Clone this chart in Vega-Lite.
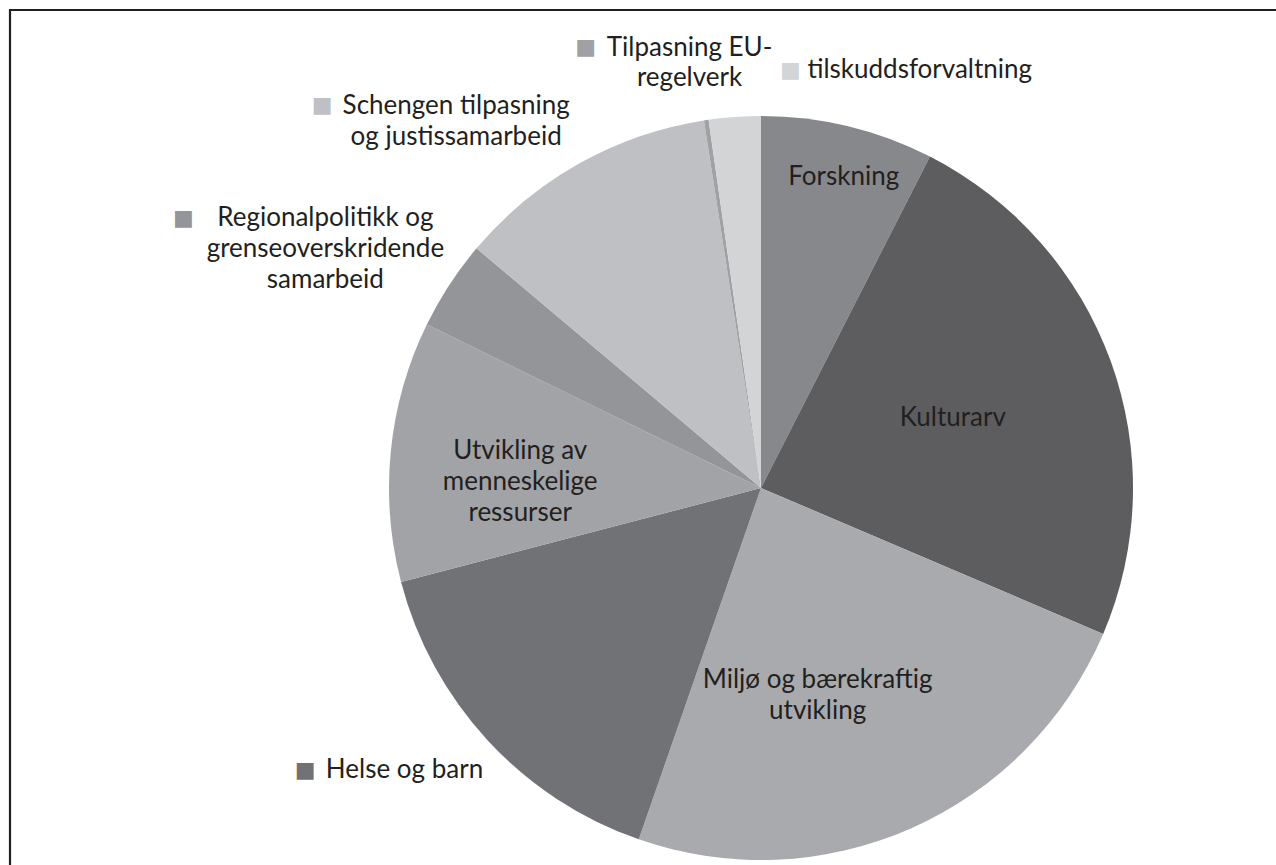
{
  "$schema": "https://vega.github.io/schema/vega-lite/v6.json",
  "width": 1502,
  "height": 956,
  "autosize": "none",
  "padding": {"left": 10, "top": 10, "right": 0, "bottom": 0},
  "background": "white",
  "view": {"stroke": "#231f20", "strokeWidth": 2.2},
  "config": {
    "view": {"stroke": "#231f20", "strokeWidth": 2.2},
    "text": {"font": "Lato", "fontSize": 26, "color": "#231f20", "lineBreak": "\n", "lineHeight": 31, "baseline": "middle"}
  },
  "data": {
    "values": [
      {"i": 1, "name": "Forskning", "share": 7.5, "label": "Forskning"},
      {"i": 2, "name": "Kulturarv", "share": 23.9, "label": "Kulturarv"},
      {"i": 3, "name": "Miljø og bærekraftig utvikling", "share": 23.9, "label": "Miljø og bærekraftig\nutvikling"},
      {"i": 4, "name": "Helse og barn", "share": 15.6, "label": "Helse og barn"},
      {"i": 5, "name": "Utvikling av menneskelige ressurser", "share": 11.3, "label": "Utvikling av\nmenneskelige\nressurser"},
      {"i": 6, "name": "Regionalpolitikk og grenseoverskridende samarbeid", "share": 3.9, "label": "Regionalpolitikk og\ngrenseoverskridende\nsamarbeid"},
      {"i": 7, "name": "Schengen tilpasning og justissamarbeid", "share": 11.4, "label": "Schengen tilpasning\nog justissamarbeid"},
      {"i": 8, "name": "Tilpasning EU-regelverk", "share": 0.2, "label": "Tilpasning EU-\nregelverk"},
      {"i": 9, "name": "tilskuddsforvaltning", "share": 2.25, "label": "tilskuddsforvaltning"}
    ]
  },
  "encoding": {
    "theta": {"field": "share", "type": "quantitative", "stack": true},
    "order": {"field": "i", "type": "quantitative"}
  },
  "layer": [
    {
      "mark": {"type": "arc", "outerRadius": 372},
      "encoding": {
        "color": {
          "field": "name", "type": "nominal", "legend": null,
          "scale": {
            "domain": ["Forskning", "Kulturarv", "Miljø og bærekraftig utvikling", "Helse og barn", "Utvikling av menneskelige ressurser", "Regionalpolitikk og grenseoverskridende samarbeid", "Schengen tilpasning og justissamarbeid", "Tilpasning EU-regelverk", "tilskuddsforvaltning"],
            "range": ["#87888b", "#5d5d5f", "#a9aaad", "#717275", "#a2a3a6", "#949598", "#bfc0c3", "#a0a1a4", "#d3d4d6"]
          }
        }
      }
    },
    {
      "mark": {"type": "text", "radius": 320, "dx": 8, "align": "center"},
      "encoding": {"text": {"condition": {"test": "datum.i == 1", "field": "label"}, "value": ""}}
    },
    {
      "mark": {"type": "text", "radius": 204, "align": "center"},
      "encoding": {"text": {"condition": {"test": "datum.i == 2", "field": "label"}, "value": ""}}
    },
    {
      "mark": {"type": "text", "radius": 229, "dx": -36, "dy": -17, "align": "center"},
      "encoding": {"text": {"condition": {"test": "datum.i == 3", "field": "label"}, "value": ""}}
    },
    {
      "mark": {"type": "text", "radius": 242, "dy": -13, "align": "center"},
      "encoding": {"text": {"condition": {"test": "datum.i == 5", "field": "label"}, "value": ""}}
    },
    {
      "mark": {"type": "text", "radius": 415, "dx": 27, "align": "right"},
      "encoding": {"text": {"condition": {"test": "datum.i == 4", "field": "label"}, "value": ""}}
    },
    {
      "mark": {"type": "text", "radius": 440, "dx": -67, "dy": -30, "align": "center"},
      "encoding": {"text": {"condition": {"test": "datum.i == 6", "field": "label"}, "value": ""}}
    },
    {
      "mark": {"type": "text", "radius": 422, "dx": -98, "dy": -14, "align": "center"},
      "encoding": {"text": {"condition": {"test": "datum.i == 7", "field": "label"}, "value": ""}}
    },
    {
      "mark": {"type": "text", "radius": 431, "dx": -8, "dy": -14, "lineHeight": 30, "align": "center"},
      "encoding": {"text": {"condition": {"test": "datum.i == 8", "field": "label"}, "value": ""}}
    },
    {
      "mark": {"type": "text", "radius": 419, "dx": 76, "align": "left"},
      "encoding": {"text": {"condition": {"test": "datum.i == 9", "field": "label"}, "value": ""}}
    },
    {
      "mark": {"type": "text", "font": "DejaVu Sans", "fontSize": 22, "align": "center", "radius": 415, "dx": -151},
      "encoding": {
        "text": {"condition": {"test": "datum.i == 4", "value": "■"}, "value": ""},
        "color": {"field": "name", "type": "nominal", "legend": null}
      }
    },
    {
      "mark": {"type": "text", "font": "DejaVu Sans", "fontSize": 22, "align": "center", "radius": 440, "dx": -209, "dy": -30},
      "encoding": {
        "text": {"condition": {"test": "datum.i == 6", "value": "■"}, "value": ""},
        "color": {"field": "name", "type": "nominal", "legend": null}
      }
    },
    {
      "mark": {"type": "text", "font": "DejaVu Sans", "fontSize": 22, "align": "center", "radius": 422, "dx": -232, "dy": -15},
      "encoding": {
        "text": {"condition": {"test": "datum.i == 7", "value": "■"}, "value": ""},
        "color": {"field": "name", "type": "nominal", "legend": null}
      }
    },
    {
      "mark": {"type": "text", "font": "DejaVu Sans", "fontSize": 22, "align": "center", "radius": 431, "dx": -112, "dy": -15},
      "encoding": {
        "text": {"condition": {"test": "datum.i == 8", "value": "■"}, "value": ""},
        "color": {"field": "name", "type": "nominal", "legend": null}
      }
    },
    {
      "mark": {"type": "text", "font": "DejaVu Sans", "fontSize": 22, "align": "center", "radius": 419, "dx": 59},
      "encoding": {
        "text": {"condition": {"test": "datum.i == 9", "value": "■"}, "value": ""},
        "color": {"field": "name", "type": "nominal", "legend": null}
      }
    }
  ]
}
